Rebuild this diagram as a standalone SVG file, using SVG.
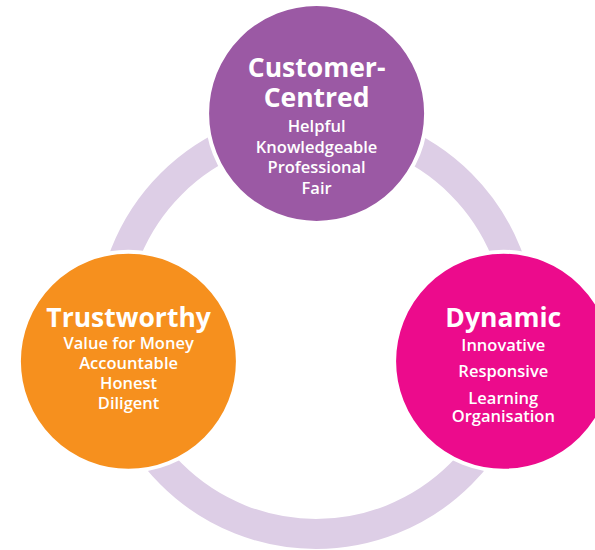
<svg xmlns="http://www.w3.org/2000/svg" width="595" height="550" viewBox="0 0 595 550">
<style>
.node{stroke:#ffffff;stroke-width:4}
.title{font-family:"Open Sans","Liberation Sans",sans-serif;font-weight:700;font-size:26.5px;fill:#ffffff;text-anchor:middle}
.sub{font-family:"Open Sans","Liberation Sans",sans-serif;font-weight:600;font-size:16.5px;fill:#ffffff;text-anchor:middle}
</style>
<rect width="595" height="550" fill="#ffffff"/>
<g id="connectors">
<circle cx="316" cy="329" r="205" fill="none" stroke="#ddcee6" stroke-width="30"/>
</g>
<g id="customer-centred">
<circle class="node" cx="316.6" cy="113.4" r="109.5" fill="#9b59a4"/>
<text class="title" x="316.6" y="77">Customer-</text>
<text class="title" x="316.6" y="106.5">Centred</text>
<text class="sub" x="316.6" y="132">Helpful</text>
<text class="sub" x="316.6" y="152.5">Knowledgeable</text>
<text class="sub" x="316.6" y="173">Professional</text>
<text class="sub" x="316.6" y="193.5">Fair</text>
</g>
<g id="trustworthy">
<circle class="node" cx="128.4" cy="361.2" r="109.5" fill="#f6901e"/>
<text class="title" x="128.6" y="327.3">Trustworthy</text>
<text class="sub" x="128.6" y="349">Value for Money</text>
<text class="sub" x="128.6" y="369.3">Accountable</text>
<text class="sub" x="128.6" y="389.3">Honest</text>
<text class="sub" x="128.6" y="409.3">Diligent</text>
</g>
<g id="dynamic">
<circle class="node" cx="503.6" cy="361.2" r="109.5" fill="#ec0b8c"/>
<text class="title" x="503.3" y="327.3">Dynamic</text>
<text class="sub" x="503.3" y="351">Innovative</text>
<text class="sub" x="503.3" y="377">Responsive</text>
<text class="sub" x="503.3" y="404">Learning</text>
<text class="sub" x="503.3" y="421.7">Organisation</text>
</g>
</svg>
